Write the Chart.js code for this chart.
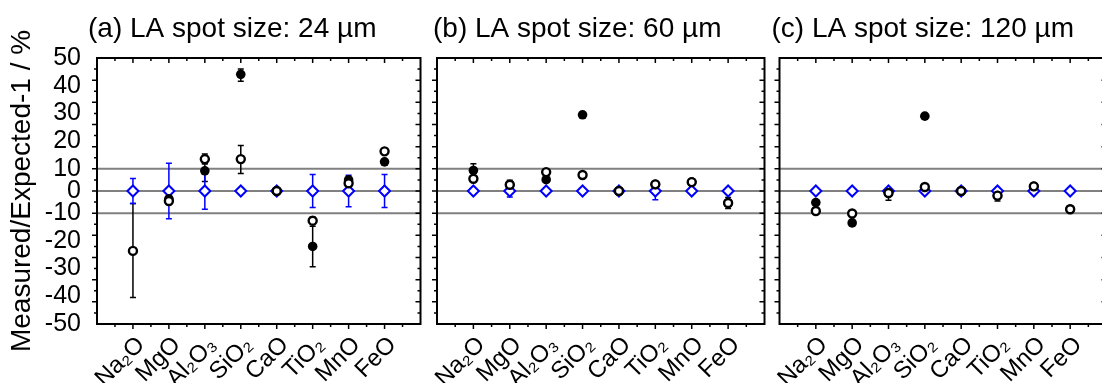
<!DOCTYPE html>
<html>
<head>
<meta charset="utf-8">
<script src="https://cdn.jsdelivr.net/npm/chart.js@4.4.1/dist/chart.umd.min.js"></script>
<style>
  html, body { margin: 0; padding: 0; background: #fff; }
  #wrap { position: relative; width: 1102px; height: 383px; overflow: hidden; }
  .panel { position: absolute; top: 0; height: 383px; }
  canvas { display: block; }
</style>
</head>
<body>
<div id="wrap">
  <div class="panel" style="left:0"><canvas id="chartA" width="428" height="383"></canvas></div>
  <div class="panel" style="left:428px"><canvas id="chartB" width="344" height="383"></canvas></div>
  <div class="panel" style="left:772px"><canvas id="chartC" width="342" height="383"></canvas></div>
</div>
<script>
// oxides on the x axis
const categories = ['Na₂O', 'MgO', 'Al₂O₃', 'SiO₂', 'CaO', 'TiO₂', 'MnO', 'FeO'];
const yTicks = [-50, 50, 10];      // min, max, step
const refLines = [-10, 0, 10];

// (a) 24 um
const refA       = [0, 0, 0, 0, 0, 0, 0, 0];
const refErrA    = [5.6, 12.0, 8.2, 0, 0, 7.4, 7.1, 7.4];
const openA      = [-23.6, -4.5, 13.5, 13.5, 0, -12.7, 3.5, 16.3];
const openLoA    = [-40.4, -5.6, 11.7, 7.9, null, -14.0, 2.6, 15.5];
const openHiA    = [-5.6, -3.4, 15.3, 18.4, null, -11.4, 4.4, 17.1];
const filledA    = [null, -3.5, 9.1, 44.1, 0, -22.0, 5.0, 12.5];
const filledLoA  = [null, -4.5, 4.3, 41.6, null, -29.3, 4.2, 11.7];
const filledHiA  = [null, -2.5, 12.0, 46.0, null, -14.7, 5.8, 13.3];

// (b) 60 um
const refB       = [0, 0, 0, 0, 0, 0, 0, 0];
const refErrB    = [0.8, 2.7, 0.8, 0.8, 0, 3.9, 0.8, 0.8];
const openB      = [5.5, 2.8, 8.5, 7.2, 0, 3.0, 4.0, -5.4];
const openLoB    = [4.5, 1.0, 7.6, 6.0, null, 1.8, 3.2, -7.9];
const openHiB    = [6.5, 4.8, 9.4, 8.4, null, 4.2, 4.8, -2.9];
const filledB    = [9.25, 2.8, 5.1, 29.5, 0, 3.0, 4.0, -5.4];
const filledLoB  = [6.7, null, 4.2, null, null, null, null, null];
const filledHiB  = [11.8, null, 6.0, null, null, null, null, null];

// (c) 120 um
const refC       = [0, 0, 0, 0, 0, 0, 0, 0];
const refErrC    = [0, 0, 0, 0, 0, 0, 0, 0];
const openC      = [-9.0, -10.1, -0.9, 1.8, 0, -2.1, 2.1, -8.2];
const openLoC    = [null, null, -4.2, 0.8, null, -4.5, 0.5, -9.0];
const openHiC    = [null, null, 1.0, 2.8, null, -0.4, 3.5, -7.4];
const filledC    = [-5.2, -13.5, -0.9, 29.0, 0, -2.1, 2.1, -8.2];
const filledLoC  = [null, null, null, null, null, null, null, null];
const filledHiC  = [null, null, null, null, null, null, null, null];

const FONT = '"Liberation Sans", Arial, sans-serif';
const BLUE = '#0000ff';

// y axis in the figure: the +-10 band is drawn tighter than the rest
class SplitLinearScale extends Chart.LinearScale {
  getPixelForValue(value) {
    const o = this.options;
    const half = (this.bottom - this.top) / 2;
    const a = Math.abs(value);
    let d;
    if (a <= o.split) d = a / o.split * o.innerShare * half;
    else d = (o.innerShare + (a - o.split) / (this.max - o.split) * (1 - o.innerShare)) * half;
    return this.top + half - Math.sign(value) * d;
  }
  getValueForPixel(pixel) {
    const o = this.options;
    const half = (this.bottom - this.top) / 2;
    const d = (this.top + half - pixel) / half;
    const a = Math.abs(d);
    const v = a <= o.innerShare ? a / o.innerShare * o.split
      : o.split + (a - o.innerShare) / (1 - o.innerShare) * (this.max - o.split);
    return Math.sign(d) * v;
  }
}
SplitLinearScale.id = 'splitLinear';
SplitLinearScale.defaults = {};
Chart.register(SplitLinearScale);

const pad = arr => [null, ...arr, null];

// reference lines + error bars under the markers, box and ticks on top
const framePlugin = {
  id: 'frame',
  beforeDatasetsDraw(chart) {
    const { ctx, chartArea: a, scales: { y } } = chart;
    ctx.save();
    ctx.strokeStyle = '#808080';
    ctx.lineWidth = 2;
    refLines.forEach(v => {
      const py = y.getPixelForValue(v);
      ctx.beginPath();
      ctx.moveTo(a.left, py);
      ctx.lineTo(a.right, py);
      ctx.stroke();
    });
    chart.data.datasets.forEach((ds, i) => {
      const eb = ds.errorBars;
      if (!eb) return;
      const meta = chart.getDatasetMeta(i);
      ctx.strokeStyle = eb.color;
      ctx.lineWidth = 1.5;
      meta.data.forEach((pt, k) => {
        const lo = eb.lo[k], hi = eb.hi[k];
        if (lo == null || hi == null || lo === hi) return;
        const y1 = y.getPixelForValue(lo), y2 = y.getPixelForValue(hi);
        ctx.beginPath();
        ctx.moveTo(pt.x, y1); ctx.lineTo(pt.x, y2);
        ctx.moveTo(pt.x - eb.cap, y1); ctx.lineTo(pt.x + eb.cap, y1);
        ctx.moveTo(pt.x - eb.cap, y2); ctx.lineTo(pt.x + eb.cap, y2);
        ctx.stroke();
      });
    });
    ctx.restore();
  },
  afterDraw(chart) {
    const { ctx, chartArea: a, scales: { x } } = chart;
    ctx.save();
    ctx.strokeStyle = '#000';
    ctx.lineWidth = 1.5;
    ctx.beginPath();
    // x ticks: top inward, bottom outward
    for (let i = 0; i <= categories.length + 1; i++) {
      const px = x.getPixelForValue(i);
      const len = (i === 0 || i === categories.length + 1) ? 0 : 5;
      ctx.moveTo(px, a.top); ctx.lineTo(px, a.top + len);
      ctx.moveTo(px, a.bottom); ctx.lineTo(px, a.bottom + len);
      if (i <= categories.length) {
        const mx = (px + x.getPixelForValue(i + 1)) / 2;
        ctx.moveTo(mx, a.top); ctx.lineTo(mx, a.top + 3);
        ctx.moveTo(mx, a.bottom); ctx.lineTo(mx, a.bottom + 3);
      }
    }
    // y ticks: left outward, right inward
    const n = 24;
    for (let j = 1; j < n; j++) {
      const py = a.top + j * a.height / n;
      const len = j % 2 === 0 ? 5 : 3;
      ctx.moveTo(a.left, py); ctx.lineTo(a.left - len, py);
      ctx.moveTo(a.right, py); ctx.lineTo(a.right - len, py);
    }
    ctx.stroke();
    ctx.lineWidth = 2;
    ctx.strokeRect(a.left, a.top, a.width, a.height);
    ctx.restore();
  }
};

const titlePlugin = {
  id: 'panelTitle',
  afterDraw(chart, args, opts) {
    const { ctx, chartArea } = chart;
    ctx.save();
    ctx.font = '28px ' + FONT;
    ctx.fillStyle = '#000';
    ctx.textBaseline = 'alphabetic';
    ctx.fillText(opts.text, chartArea.left + opts.dx, 37);
    ctx.restore();
  }
};

function makePanel(id, p) {
  return new Chart(document.getElementById(id), {
    type: 'line',
    data: {
      labels: ['', ...categories, ''],
      datasets: [
        {
          label: 'open',
          data: pad(p.open),
          showLine: false,
          pointStyle: 'circle',
          pointRadius: 4,
          pointBorderWidth: 2.4,
          pointBorderColor: '#000',
          pointBackgroundColor: '#fff',
          order: 1,
          errorBars: { lo: pad(p.openLo), hi: pad(p.openHi), color: '#000', cap: 3 }
        },
        {
          label: 'filled',
          data: pad(p.filled),
          showLine: false,
          pointStyle: 'circle',
          pointRadius: 4.8,
          pointBorderWidth: 0,
          pointBorderColor: '#000',
          pointBackgroundColor: '#000',
          order: 2,
          errorBars: { lo: pad(p.filledLo), hi: pad(p.filledHi), color: '#000', cap: 3 }
        },
        {
          label: 'reference',
          data: pad(p.ref),
          showLine: false,
          pointStyle: 'rectRot',
          pointRadius: 5.5,
          pointBorderWidth: 2,
          pointBorderColor: BLUE,
          pointBackgroundColor: '#fff',
          order: 3,
          errorBars: {
            lo: pad(p.ref.map((v, i) => v - p.refErr[i])),
            hi: pad(p.ref.map((v, i) => v + p.refErr[i])),
            color: BLUE, cap: 3
          }
        }
      ]
    },
    options: {
      responsive: false,
      animation: false,
      events: [],
      layout: { padding: { top: 58, right: 3, left: 0, bottom: 0 } },
      plugins: {
        legend: { display: false },
        tooltip: { enabled: false },
        panelTitle: { text: p.title, dx: p.titleDx }
      },
      scales: {
        x: {
          type: 'category',
          offset: false,
          grid: { display: false },
          border: { display: false },
          ticks: {
            autoSkip: false,
            minRotation: 45,
            maxRotation: 45,
            padding: -1,
            labelOffset: 8,
            color: '#000',
            font: { family: FONT, size: 24 }
          },
          afterFit: s => {
            s.height = 59;
            s.paddingLeft = 0;
            s.paddingRight = 0;
          }
        },
        y: {
          type: 'splitLinear',
          min: yTicks[0],
          max: yTicks[1],
          split: 10,
          innerShare: 0.167,
          grid: { display: false },
          border: { display: false },
          ticks: {
            display: p.showY,
            autoSkip: false,
            stepSize: yTicks[2],
            padding: 8,
            color: '#000',
            font: { family: FONT, size: 25 }
          },
          title: {
            display: p.showY,
            text: 'Measured/Expected-1 / %',
            color: '#000',
            padding: { top: 5, bottom: 0 },
            font: { family: FONT, size: 28 }
          },
          afterFit: s => {
            s.width = p.yWidth;
            s.paddingTop = 0;
            s.paddingBottom = 0;
          }
        }
      }
    },
    plugins: [framePlugin, titlePlugin]
  });
}

makePanel('chartA', {
  title: '(a) LA spot size: 24 µm', titleDx: -9, showY: true, yWidth: 97,
  ref: refA, refErr: refErrA, open: openA, openLo: openLoA, openHi: openHiA,
  filled: filledA, filledLo: filledLoA, filledHi: filledHiA
});
makePanel('chartB', {
  title: '(b) LA spot size: 60 µm', titleDx: -4, showY: false, yWidth: 9,
  ref: refB, refErr: refErrB, open: openB, openLo: openLoB, openHi: openHiB,
  filled: filledB, filledLo: filledLoB, filledHi: filledHiB
});
makePanel('chartC', {
  title: '(c) LA spot size: 120 µm', titleDx: -8, showY: false, yWidth: 7.3,
  ref: refC, refErr: refErrC, open: openC, openLo: openLoC, openHi: openHiC,
  filled: filledC, filledLo: filledLoC, filledHi: filledHiC
});
</script>
</body>
</html>
